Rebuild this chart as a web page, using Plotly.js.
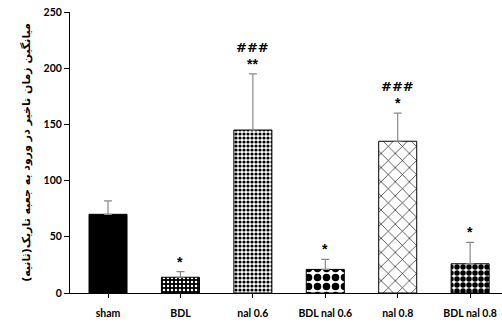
<!DOCTYPE html>
<html>
<head>
<meta charset="utf-8">
<script src="https://cdn.plot.ly/plotly-3.0.1.min.js"></script>
<style>html,body{margin:0;padding:0;background:#fff;}#chart{width:502px;height:326px;}</style>
</head>
<body>
<div id="chart"></div>
<script>
const categories = ["sham", "BDL", "nal 0.6", "BDL nal 0.6", "nal 0.8", "BDL nal 0.8"];
const means = [70, 14, 145, 21, 135, 26];
const errors = [12, 5, 50, 9, 25, 19];
const starLabels = ["", "*", "**", "*", "*", "*"];
const hashLabels = ["", "", "###", "", "###", ""];
const yTickVals = [0, 50, 100, 150, 200, 250];
const yTitle = "میانگین زمان تاخیر در ورود به جعبه تاریک(ثانیه)";

const shapes = ["", ".", ".", ".", "x", "."];
const patFg = ["#000", "#fff", "#000", "#000", "#000", "#000"];
const patBg = ["#000", "#000", "#fff", "#fff", "#fff", "#fff"];
const psize = [8, 4, 4, 9, 10, 6];
const psolid = [1, 0.3, 0.5, 0.55, 0.12, 0.65];

const trace = {
  type: "bar",
  x: categories,
  y: means,
  width: 0.525,
  marker: {
    color: "#000",
    line: {color: "#000", width: 1},
    pattern: {shape: shapes, fgcolor: patFg, bgcolor: patBg, size: psize, solidity: psolid}
  },
  error_y: {type: "data", symmetric: false, array: errors, arrayminus: errors.map(() => 0),
            color: "#8a8a8a", thickness: 1.2, width: 4},
  hoverinfo: "none"
};

const annotations = [];
categories.forEach((c, i) => {
  const top = means[i] + errors[i];
  if (starLabels[i]) annotations.push({x: c, y: top, text: starLabels[i], showarrow: false,
    yanchor: "bottom", yshift: 0, font: {family: "Liberation Sans", size: 14, color: "#000"}});
  if (hashLabels[i]) annotations.push({x: c, y: top, text: hashLabels[i], showarrow: false,
    yanchor: "bottom", yshift: 17, font: {family: "DejaVu Sans", size: 13, color: "#000"}});
});

const layout = {
  width: 502, height: 326,
  margin: {l: 70, r: 0, t: 12, b: 33, pad: 0},
  paper_bgcolor: "#fff", plot_bgcolor: "#fff",
  showlegend: false,
  font: {family: "Lato", size: 10, color: "#000", weight: "bold"},
  xaxis: {
    type: "category", range: [-0.525, 5.44],
    showline: true, linecolor: "#000", linewidth: 1,
    ticks: "outside", ticklen: 4, tickcolor: "#000", tickwidth: 1,
    showgrid: false, zeroline: false, ticklabelstandoff: 6,
    tickfont: {family: "Lato", size: 10.5, color: "#000", weight: "bold"}
  },
  yaxis: {
    range: [0, 250], tickvals: yTickVals,
    showline: true, linecolor: "#000", linewidth: 1,
    ticks: "outside", ticklen: 5, tickcolor: "#000", tickwidth: 1,
    showgrid: false, zeroline: false,
    tickfont: {family: "Lato", size: 10.5, color: "#000", weight: "bold"},
    title: {text: yTitle, standoff: 10, font: {family: "DejaVu Sans", size: 11, color: "#000", weight: "bold"}}
  },
  annotations: annotations,
  bargap: 0.475
};

Plotly.newPlot("chart", [trace], layout, {displayModeBar: false});
</script>
</body>
</html>
